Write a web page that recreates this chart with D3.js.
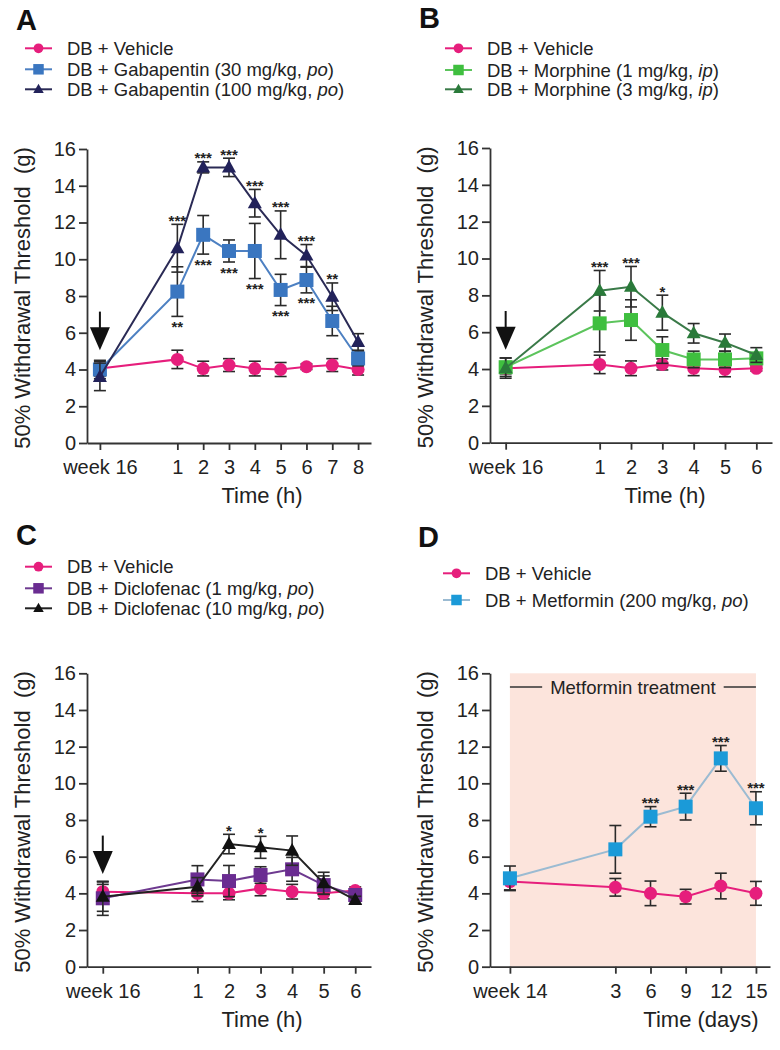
<!DOCTYPE html>
<html><head><meta charset="utf-8">
<script src="https://cdn.jsdelivr.net/npm/d3@7"></script>
<style>
body{margin:0;background:#fff;}
svg{display:block;font-family:"Liberation Sans",Arial,Helvetica,sans-serif;}
</style></head>
<body>
<svg id="c" width="780" height="1050"></svg>
<script>
// ---------- DATA ----------
const yTicks = [0,2,4,6,8,10,12,14,16];

// Panel A
const xA = [-2,1,2,3,4,5,6,7,8];
const xTickLabelsA = ["week 16","1","2","3","4","5","6","7","8"];
const vehA = [4.05,4.55,4.05,4.24,4.05,4.0,4.15,4.24,4.0];
const vehAErr = [0.4,0.5,0.4,0.35,0.4,0.38,0.15,0.35,0.3];
const gab30 = [4.0,8.24,11.33,10.45,10.45,8.33,8.87,6.64,4.6];
const gab30Err = [0.5,1.35,1.05,0.6,1.5,0.85,0.7,0.8,0.4];
const gab100 = [3.6,10.6,15.0,15.0,13.05,11.33,10.2,7.96,5.5];
const gab100Err = [0.75,1.3,0.3,0.5,0.75,1.3,0.6,0.75,0.45];
const sigGab30 = ["","**","***","***","***","***","***","",""];
const sigGab100 = ["","***","***","***","***","***","***","**",""];
const legendA = [["DB + Vehicle","",""],["DB + Gabapentin (30 mg/kg, ","po",")"],["DB + Gabapentin (100 mg/kg, ","po",")"]];

// Panel B
const xB = [-2,1,2,3,4,5,6];
const xTickLabelsB = ["week 16","1","2","3","4","5","6"];
const vehB = [4.04,4.25,4.04,4.25,4.04,3.98,4.04];
const vehBErr = [0.3,0.5,0.4,0.3,0.4,0.4,0.15];
const mor1 = [4.1,6.48,6.66,5.03,4.52,4.52,4.58];
const mor1Err = [0.5,1.55,1.1,0.72,0.45,0.45,0.3];
const mor3 = [4.05,8.25,8.47,7.06,5.94,5.43,4.76];
const mor3Err = [0.55,1.1,1.1,0.95,0.53,0.47,0.4];
const sigMor1 = ["","","","","","",""];
const sigMor3 = ["","***","***","*","","",""];
const legendB = [["DB + Vehicle","",""],["DB + Morphine (1 mg/kg, ","ip",")"],["DB + Morphine (3 mg/kg, ","ip",")"]];

// Panel C
const xC = [-2,1,2,3,4,5,6];
const xTickLabelsC = ["week 16","1","2","3","4","5","6"];
const vehC = [4.09,4.0,4.0,4.27,4.09,4.0,4.15];
const vehCErr = [0.4,0.45,0.35,0.4,0.4,0.3,0.2];
const dic1 = [3.73,4.76,4.67,5.0,5.31,4.45,3.91];
const dic1Err = [0.93,0.75,0.85,0.45,0.65,0.5,0.3];
const dic10 = [3.82,4.36,6.69,6.51,6.33,4.55,3.64];
const dic10Err = [0.8,0.5,0.53,0.6,0.8,0.6,0.2];
const sigDic1 = ["","","","","","",""];
const sigDic10 = ["","","*","*","","",""];
const legendC = [["DB + Vehicle","",""],["DB + Diclofenac (1 mg/kg, ","po",")"],["DB + Diclofenac (10 mg/kg, ","po",")"]];

// Panel D
const xD = [-6,3,6,9,12,15];
const xTickLabelsD = ["week 14","3","6","9","12","15"];
const vehD = [4.64,4.33,4.0,3.82,4.4,4.0];
const vehDErr = [0.45,0.48,0.67,0.4,0.7,0.65];
const met = [4.82,6.4,8.18,8.73,11.36,8.64];
const metErr = [0.67,1.3,0.55,0.73,0.7,0.9];
const sigMet = ["","","***","***","***","***"];
const legendD = [["DB + Vehicle","",""],["DB + Metformin (200 mg/kg, ","po",")"]];
const treatmentSpan = [-6,15];

const arrowVals = [7.15,5.05]; // arrow top / tip (y units)
const noSig = null;

// ---------- DRAW ----------
const svg = d3.select("#c");
const AX = "#333";
const ERR = "#2a2a2a";

function marker(g, shape, cx, cy, size, fill){
  if(shape==="circle"){
    g.append("circle").attr("cx",cx).attr("cy",cy).attr("r",size/2).attr("fill",fill);
  } else if(shape==="square"){
    g.append("rect").attr("x",cx-size/2).attr("y",cy-size/2).attr("width",size).attr("height",size).attr("fill",fill);
  } else {
    const h=size*0.9, w=size;
    g.append("path").attr("d",`M${cx},${cy-h*0.6}L${cx+w/2},${cy+h*0.4}L${cx-w/2},${cy+h*0.4}Z`).attr("fill",fill);
  }
}

function drawPanel(cfg){
  const x = d3.scaleLinear().domain(cfg.xDomain).range([cfg.x0,cfg.x1]);
  const y = d3.scaleLinear().domain([0,16]).range([cfg.y0,cfg.y1]);
  const g = svg.append("g");

  if(cfg.shade){
    g.append("rect").attr("x",x(cfg.shade[0])).attr("y",y(16))
      .attr("width",x(cfg.shade[1])-x(cfg.shade[0])).attr("height",y(0)-y(16))
      .attr("fill","#fce4dc");
    const ty=y(15.25), cx=(x(cfg.shade[0])+x(cfg.shade[1]))/2;
    const t=g.append("text").attr("x",cx).attr("y",ty+6.5).attr("text-anchor","middle")
      .attr("font-size",18.5).attr("fill","#222").text("Metformin treatment");
    const bb=t.node().getBBox();
    g.append("line").attr("x1",x(cfg.shade[0])).attr("x2",bb.x-8).attr("y1",ty).attr("y2",ty).attr("stroke","#333").attr("stroke-width",1.6);
    g.append("line").attr("x1",bb.x+bb.width+8).attr("x2",x(cfg.shade[1])).attr("y1",ty).attr("y2",ty).attr("stroke","#333").attr("stroke-width",1.6);
  }

  // axes
  const ya = g.append("g").attr("transform",`translate(${cfg.x0},0)`)
    .call(d3.axisLeft(y).tickValues(yTicks).tickSize(8).tickSizeOuter(0).tickPadding(3));
  const xa = g.append("g").attr("transform",`translate(0,${cfg.y0})`)
    .call(d3.axisBottom(x).tickValues(cfg.xTicks).tickFormat((d,i)=>cfg.xLabels[i]).tickSize(7).tickSizeOuter(0));
  [ya,xa].forEach(a=>{
    a.select(".domain").attr("stroke",AX).attr("stroke-width",1.8);
    a.selectAll(".tick line").attr("stroke",AX).attr("stroke-width",1.8);
    a.selectAll("text").attr("font-size",20).attr("fill","#222").attr("font-family","Liberation Sans, Arial, sans-serif");
  });
  xa.selectAll("text").attr("y",31).attr("dy",0);

  // axis titles
  g.append("text").attr("x",cfg.titleX).attr("y",cfg.y0+60).attr("text-anchor","middle")
    .attr("font-size",22).attr("fill","#222").text(cfg.xTitle);
  const yc=(cfg.y0+cfg.y1)/2+2, yx=cfg.x0-57.5;
  g.append("text").attr("transform",`translate(${yx},${yc}) rotate(-90)`).attr("text-anchor","middle")
    .attr("font-size",22).attr("fill","#222").attr("xml:space","preserve").text("50% Withdrawal Threshold  (g)");

  // arrow
  if(cfg.arrow){
    const ax=x(cfg.xTicks[0]), yt=y(arrowVals[0]), yp=y(arrowVals[1]);
    g.append("line").attr("x1",ax).attr("x2",ax).attr("y1",yt).attr("y2",yp-20).attr("stroke","#111").attr("stroke-width",2);
    g.append("path").attr("d",`M${ax-10},${yp-23}L${ax+10},${yp-23}L${ax},${yp}Z`).attr("fill","#111");
  }

  // series
  cfg.series.forEach(s=>{
    const sg=g.append("g");
    s.vals.forEach((v,i)=>{
      const px=x(cfg.xVals[i]), e=s.err[i];
      if(e>0){
        sg.append("line").attr("x1",px).attr("x2",px).attr("y1",y(v-e)).attr("y2",y(v+e)).attr("stroke",ERR).attr("stroke-width",1.6);
        [v-e,v+e].forEach(vv=>sg.append("line").attr("x1",px-6).attr("x2",px+6).attr("y1",y(vv)).attr("y2",y(vv)).attr("stroke",ERR).attr("stroke-width",1.6));
      }
    });
    sg.append("path").datum(s.vals).attr("fill","none").attr("stroke",s.line).attr("stroke-width",2)
      .attr("d",d3.line().x((d,i)=>x(cfg.xVals[i])).y(d=>y(d)));
    s.vals.forEach((v,i)=>marker(sg,s.shape,x(cfg.xVals[i]),y(v),s.size,s.color));
    if(s.sig){
      s.vals.forEach((v,i)=>{
        const lab=s.sig[i]; if(!lab) return;
        const px=x(cfg.xVals[i]);
        const cy = s.sigPos==="above" ? y(v+s.err[i])-7 : y(v-s.err[i])+7;
        g.append("text").attr("x",px).attr("y",cy+8.5).attr("text-anchor","middle")
          .attr("font-size",15).attr("font-weight","bold").attr("fill","#222").text(lab);
      });
    }
  });

  // panel letter
  g.append("text").attr("x",cfg.letterX).attr("y",cfg.letterY).attr("font-size",29).attr("font-weight","bold").attr("fill","#111").text(cfg.letter);

  // legend
  cfg.legend.forEach((l,i)=>{
    const s=cfg.series[i], ly=cfg.legY[i];
    g.append("line").attr("x1",cfg.legX).attr("x2",cfg.legX+27).attr("y1",ly).attr("y2",ly).attr("stroke",s.line).attr("stroke-width",2);
    marker(g,s.shape,cfg.legX+13.5,ly,s.size*0.75,s.color);
    const t=g.append("text").attr("x",cfg.legX+42).attr("y",ly+6.5).attr("font-size",18.5).attr("fill","#222");
    t.append("tspan").text(l[0]);
    if(l[1]) t.append("tspan").attr("font-style","italic").text(l[1]);
    if(l[2]) t.append("tspan").text(l[2]);
  });
}

const PINK="#e61e7c";
drawPanel({letter:"A",letterX:16,letterY:30,x0:87,x1:371,y0:443,y1:149,xDomain:[-2.5,8.5],
  xTicks:xA,xLabels:xTickLabelsA,xVals:xA,xTitle:"Time (h)",titleX:262,arrow:true,
  legend:legendA,legX:25,legY:[48.3,69.3,89.3],
  series:[
    {vals:vehA,err:vehAErr,color:PINK,line:PINK,shape:"circle",size:13},
    {vals:gab30,err:gab30Err,color:"#3a76c0",line:"#4d80c2",shape:"square",size:14,sig:sigGab30,sigPos:"below"},
    {vals:gab100,err:gab100Err,color:"#22225a",line:"#2a2a55",shape:"triangle",size:14,sig:sigGab100,sigPos:"above"}
  ]});
drawPanel({letter:"B",letterX:419,letterY:28,x0:490,x1:772,y0:442.7,y1:148,xDomain:[-2.5,6.5],
  xTicks:xB,xLabels:xTickLabelsB,xVals:xB,xTitle:"Time (h)",titleX:665,arrow:true,
  legend:legendB,legX:445,legY:[48.3,70,89.3],
  series:[
    {vals:vehB,err:vehBErr,color:PINK,line:PINK,shape:"circle",size:13},
    {vals:mor1,err:mor1Err,color:"#3fbf3f",line:"#5cc45c",shape:"square",size:14,sig:sigMor1,sigPos:"above"},
    {vals:mor3,err:mor3Err,color:"#2a7a3a",line:"#3a7a48",shape:"triangle",size:14,sig:sigMor3,sigPos:"above"}
  ]});
drawPanel({letter:"C",letterX:16,letterY:545,x0:87,x1:371,y0:966.7,y1:673.3,xDomain:[-2.5,6.5],
  xTicks:xC,xLabels:xTickLabelsC,xVals:xC,xTitle:"Time (h)",titleX:262,arrow:true,
  legend:legendC,legX:25,legY:[566.7,588.3,608.3],
  series:[
    {vals:vehC,err:vehCErr,color:PINK,line:PINK,shape:"circle",size:13},
    {vals:dic1,err:dic1Err,color:"#6a2c91",line:"#6e3a90",shape:"square",size:14,sig:sigDic1,sigPos:"above"},
    {vals:dic10,err:dic10Err,color:"#111",line:"#222",shape:"triangle",size:14,sig:sigDic10,sigPos:"above"}
  ]});
drawPanel({letter:"D",letterX:418,letterY:547,x0:490,x1:770,y0:966.7,y1:673.3,xDomain:[-7.7,16.2],
  xTicks:xD,xLabels:xTickLabelsD,xVals:xD,xTitle:"Time (days)",titleX:701,arrow:false,shade:treatmentSpan,
  legend:legendD,legX:443,legY:[573.3,600],
  series:[
    {vals:vehD,err:vehDErr,color:PINK,line:PINK,shape:"circle",size:13},
    {vals:met,err:metErr,color:"#1b9ad8",line:"#9bbbd2",shape:"square",size:14,sig:sigMet,sigPos:"above"}
  ]});
</script>
</body></html>
